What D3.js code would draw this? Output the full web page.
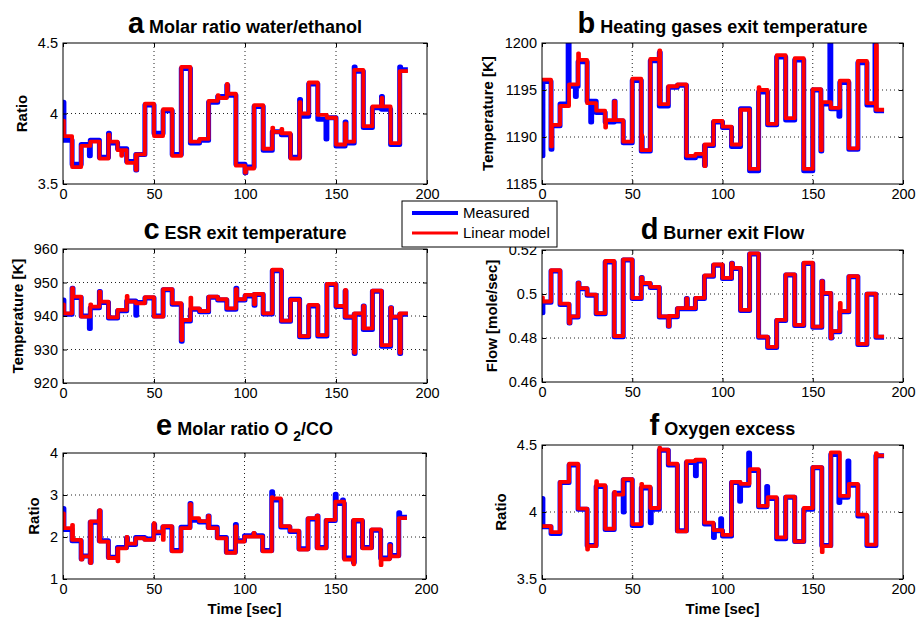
<!DOCTYPE html>
<html>
<head>
<meta charset="utf-8">
<script src="https://cdn.jsdelivr.net/npm/d3@7"></script>
<style>
body { margin: 0; background: #fff; }
svg text { font-family: "Liberation Sans", Arial, Helvetica, sans-serif; fill: #000; }
</style>
</head>
<body>
<div id="chart"></div>
<script>
// step instants of the input sequence [sec]
var stepTimes = [0, 5, 10, 15, 20, 25, 30, 35, 40, 45, 50, 55, 60, 65, 70, 75, 80, 85, 90, 95,
    100, 105, 110, 115, 120, 125, 130, 135, 140, 145, 150, 155, 160, 165, 170, 175, 180, 185];
var endTime = 189.5;
var xTicks = [0, 50, 100, 150, 200];
var xTickLabels = ["0", "50", "100", "150", "200"];
var seriesNames = ["Measured", "Linear model"];

// a - molar ratio water/ethanol
var ratioMeas = [3.81, 3.64, 3.78, 3.81, 3.69, 3.79, 3.75, 3.66, 3.71, 4.06, 3.86, 4.02, 3.71, 4.32, 3.79, 3.81, 4.08, 4.12, 4.13, 3.64,
    3.62, 4.05, 3.74, 3.87, 3.85, 3.69, 3.98, 4.21, 3.96, 3.97, 3.77, 3.79, 4.30, 3.90, 4.04, 4.03, 3.78, 4.31];
var ratioModel = [3.84, 3.62, 3.77, 3.80, 3.68, 3.80, 3.74, 3.65, 3.71, 4.07, 3.84, 4.03, 3.70, 4.33, 3.80, 3.82, 4.09, 4.11, 4.14, 3.63,
    3.61, 4.06, 3.75, 3.87, 3.86, 3.68, 4.00, 4.22, 3.99, 3.97, 3.78, 3.80, 4.31, 3.91, 4.05, 4.05, 3.79, 4.30];
var ratioMeasSpikes = [[0, 4.08], [14.5, 3.70], [25, 3.86], [40, 3.60], [90, 4.20], [100, 3.58], [130, 4.10], [144.5, 3.82], [155, 3.94], [160, 4.33], [175, 4.12], [185, 4.33]];
var ratioModelSpikes = [[0, 3.95], [25, 3.85], [32, 3.70], [40, 3.60], [85, 4.13], [90, 4.21], [100, 3.58], [115, 3.90], [120, 3.89], [130, 4.08], [155, 3.93], [175, 4.11]];
var ratioTicks = [3.5, 4, 4.5];
var ratioTickLabels = ["3.5", "4", "4.5"];

// b - heating gases exit temperature
var heatMeas = [1195.9, 1191.2, 1193.5, 1195.4, 1198.0, 1193.8, 1192.6, 1191.6, 1191.7, 1189.4, 1196.0, 1188.5, 1198.1, 1193.3, 1195.3, 1195.5, 1187.8, 1188.0, 1189.1, 1191.6,
    1191.0, 1189.0, 1193.0, 1186.4, 1194.8, 1191.3, 1198.5, 1191.8, 1198.2, 1186.4, 1195.0, 1193.5, 1193.0, 1195.8, 1188.7, 1197.9, 1193.4, 1192.8];
var heatModel = [1196.1, 1191.3, 1193.3, 1195.6, 1198.2, 1193.6, 1192.8, 1191.8, 1191.8, 1189.5, 1196.2, 1188.6, 1198.3, 1193.5, 1195.4, 1195.6, 1188.0, 1188.2, 1189.2, 1191.7,
    1191.1, 1189.2, 1192.9, 1186.6, 1195.0, 1191.4, 1198.7, 1192.0, 1198.4, 1186.6, 1195.1, 1193.7, 1193.1, 1196.0, 1188.8, 1198.1, 1193.6, 1192.9];
var heatMeasSpikes = [[0, 1188.0], [5, 1188.7], [14.5, 1200.5], [18.5, 1194.3], [27, 1191.6], [40, 1193.8], [55, 1190.0], [65, 1199.0], [90, 1187.0], [115, 1186.4], [154.5, 1188.5], [159.5, 1200.5], [164.5, 1192.2], [184.5, 1200.5]];
var heatModelSpikes = [[5, 1189.0], [20, 1198.9], [35, 1191.0], [40, 1193.8], [55, 1190.2], [65, 1199.2], [90, 1186.9], [120, 1195.3], [154.5, 1188.6], [185, 1199.8]];
var heatTicks = [1185, 1190, 1195, 1200];
var heatTickLabels = ["1185", "1190", "1195", "1200"];

// c - ESR exit temperature
var esrMeas = [940.5, 945.5, 940.0, 942.5, 944.0, 939.4, 941.6, 944.5, 944.0, 945.4, 940.0, 947.8, 943.5, 938.5, 942.0, 941.3, 945.6, 944.8, 942.0, 944.8,
    946.0, 946.4, 940.6, 953.5, 938.4, 945.0, 933.8, 943.0, 934.0, 949.4, 942.8, 939.6, 940.5, 936.0, 947.4, 931.0, 939.6, 940.5];
var esrModel = [940.8, 945.8, 939.8, 942.8, 944.3, 939.6, 941.8, 944.3, 943.8, 945.6, 939.8, 948.0, 943.8, 938.8, 942.3, 941.5, 945.8, 945.0, 942.3, 945.0,
    946.3, 946.6, 940.8, 953.8, 938.6, 944.8, 934.0, 943.3, 934.3, 949.6, 943.0, 939.8, 940.8, 936.3, 947.6, 931.3, 939.8, 940.8];
var esrMeasSpikes = [[0, 944.8], [5, 948.3], [14.5, 936.3], [20, 947.3], [40, 940.2], [65, 932.5], [95, 948.3], [105, 943.2], [155, 947.5], [160, 928.8], [165, 943.0], [180, 942.5], [185, 928.8]];
var esrModelSpikes = [[0, 943.5], [5, 948.3], [15, 943.5], [20, 947.3], [35, 946.0], [65, 932.8], [70, 945.5], [95, 948.0], [105, 943.5], [155, 947.8], [160, 929.0], [165, 943.0], [180, 942.5], [185, 929.0]];
var esrTicks = [920, 930, 940, 950, 960];
var esrTickLabels = ["920", "930", "940", "950", "960"];

// d - burner exit flow
var flowMeas = [0.4962, 0.5105, 0.4952, 0.4895, 0.5024, 0.4994, 0.4910, 0.5146, 0.4806, 0.5154, 0.4979, 0.5047, 0.5029, 0.4895, 0.4897, 0.4933, 0.4933, 0.4979, 0.5081, 0.5131,
    0.5070, 0.5116, 0.4925, 0.5182, 0.4803, 0.4757, 0.4879, 0.5086, 0.4857, 0.5139, 0.4849, 0.5002, 0.4828, 0.4919, 0.5078, 0.4770, 0.4999, 0.4803];
var flowModel = [0.4966, 0.5108, 0.4956, 0.4898, 0.5027, 0.4997, 0.4913, 0.5150, 0.4809, 0.5157, 0.4982, 0.5050, 0.5032, 0.4898, 0.4900, 0.4936, 0.4936, 0.4982, 0.5084, 0.5134,
    0.5073, 0.5119, 0.4928, 0.5185, 0.4806, 0.4760, 0.4882, 0.5089, 0.4860, 0.5142, 0.4852, 0.5005, 0.4831, 0.4922, 0.5081, 0.4773, 0.5002, 0.4806];
var flowMeasSpikes = [[0, 0.4915], [15, 0.4868], [20, 0.5050], [55, 0.5075], [70, 0.4853], [80, 0.4980], [105, 0.5140], [155, 0.5058], [160, 0.4800]];
var flowModelSpikes = [[0, 0.4985], [15, 0.4868], [20, 0.5050], [55, 0.5075], [70, 0.4853], [80, 0.4980], [105, 0.5140], [155, 0.5058], [160, 0.4800], [165, 0.4960]];
var flowTicks = [0.46, 0.48, 0.5, 0.52];
var flowTickLabels = ["0.46", "0.48", "0.5", "0.52"];

// e - molar ratio O2/CO
var o2coMeas = [2.18, 1.91, 1.55, 2.35, 1.91, 1.52, 1.75, 1.82, 1.99, 1.95, 2.10, 2.24, 1.68, 2.23, 2.40, 2.36, 2.23, 1.99, 1.64, 1.91,
    2.03, 2.03, 1.68, 2.88, 2.24, 2.13, 1.72, 2.43, 1.75, 2.39, 2.80, 1.50, 2.38, 1.75, 2.16, 1.50, 1.56, 2.47];
var o2coModel = [2.21, 1.93, 1.54, 2.37, 1.89, 1.50, 1.73, 1.84, 1.97, 1.93, 2.13, 2.26, 1.66, 2.21, 2.45, 2.38, 2.21, 1.97, 1.62, 1.89,
    2.01, 2.01, 1.66, 2.92, 2.26, 2.15, 1.70, 2.45, 1.73, 2.41, 2.84, 1.46, 2.41, 1.73, 2.18, 1.47, 1.54, 2.45];
var o2coMeasSpikes = [[0, 2.68], [10, 1.48], [15, 1.40], [20, 2.62], [35, 1.98], [50, 2.30], [70, 2.80], [80, 2.50], [95, 2.30], [105, 2.08], [115, 3.08], [140, 2.50], [150, 3.02], [154, 2.88], [160, 1.40], [180, 1.82], [185, 2.58]];
var o2coModelSpikes = [[0, 2.56], [5, 2.29], [10, 1.46], [15, 1.38], [20, 2.64], [30, 1.42], [35, 2.00], [50, 2.33], [55, 1.93], [70, 2.78], [80, 2.50], [95, 2.25], [105, 2.10], [115, 2.95], [140, 2.51], [160, 1.35], [175, 1.33], [180, 1.80]];
var o2coTicks = [1, 2, 3, 4];
var o2coTickLabels = ["1", "2", "3", "4"];

// f - oxygen excess
var oxyMeas = [3.89, 3.84, 4.22, 4.35, 4.02, 3.75, 4.19, 3.87, 4.14, 4.24, 3.90, 4.18, 4.02, 4.46, 4.35, 3.86, 4.37, 4.38, 3.91, 3.86,
    3.82, 4.22, 4.20, 4.31, 4.04, 4.10, 3.80, 4.11, 3.78, 4.02, 4.33, 3.75, 4.43, 4.11, 4.20, 3.97, 3.75, 4.42];
var oxyModel = [3.895, 3.85, 4.225, 4.36, 4.025, 3.745, 4.20, 3.875, 4.13, 4.245, 3.91, 4.19, 4.03, 4.465, 4.36, 3.855, 4.38, 4.39, 3.92, 3.865,
    3.83, 4.225, 4.21, 4.32, 4.045, 4.11, 3.81, 4.115, 3.78, 4.03, 4.335, 3.745, 4.445, 4.12, 4.21, 3.98, 3.757, 4.42];
var oxyMeasSpikes = [[0, 4.10], [45, 4.00], [60, 3.92], [85, 4.27], [95, 3.81], [99, 3.95], [109.5, 4.08], [114.5, 4.44], [124.5, 4.19], [164.5, 4.07], [169.5, 4.38]];
var oxyModelSpikes = [[25, 3.72], [30, 4.23], [40, 4.15], [55, 4.21], [65, 4.48], [155, 3.70], [185, 4.44]];
var oxyTicks = [3.5, 4, 4.5];
var oxyTickLabels = ["3.5", "4", "4.5"];

var W = 918, H = 619;
var spikeLength = 0.5; // sec
var svg = d3.select("#chart").append("svg")
    .attr("width", W)
    .attr("height", H);

var panels = [
    {id: "a", letter: "a", title: " Molar ratio water/ethanol", ylabel: "Ratio", meas: ratioMeas, model: ratioModel,
        measSpikes: ratioMeasSpikes, modelSpikes: ratioModelSpikes, ticks: ratioTicks, tickLabels: ratioTickLabels,
        left: 63, right: 427, top: 43, bottom: 184, titleY: 33, ylabelX: 27},
    {id: "b", letter: "b", title: " Heating gases exit temperature", ylabel: "Temperature [K]", meas: heatMeas, model: heatModel,
        measSpikes: heatMeasSpikes, modelSpikes: heatModelSpikes, ticks: heatTicks, tickLabels: heatTickLabels,
        left: 542, right: 903, top: 43, bottom: 184, titleY: 33, ylabelX: 493},
    {id: "c", letter: "c", title: " ESR exit temperature", ylabel: "Temperature [K]", meas: esrMeas, model: esrModel,
        measSpikes: esrMeasSpikes, modelSpikes: esrModelSpikes, ticks: esrTicks, tickLabels: esrTickLabels,
        left: 63, right: 427, top: 249, bottom: 383, titleY: 239, ylabelX: 23},
    {id: "d", letter: "d", title: " Burner exit Flow", ylabel: "Flow [mole/sec]", meas: flowMeas, model: flowModel,
        measSpikes: flowMeasSpikes, modelSpikes: flowModelSpikes, ticks: flowTicks, tickLabels: flowTickLabels,
        left: 542, right: 903, top: 250, bottom: 382, titleY: 239, ylabelX: 497},
    {id: "e", letter: "e", title: " Molar ratio O", sub: "2", after: "/CO", ylabel: "Ratio", xlabel: "Time [sec]", meas: o2coMeas, model: o2coModel,
        measSpikes: o2coMeasSpikes, modelSpikes: o2coModelSpikes, ticks: o2coTicks, tickLabels: o2coTickLabels,
        left: 63, right: 426, top: 453, bottom: 579, titleY: 435, ylabelX: 39},
    {id: "f", letter: "f", title: " Oxygen excess", ylabel: "Ratio", xlabel: "Time [sec]", meas: oxyMeas, model: oxyModel,
        measSpikes: oxyMeasSpikes, modelSpikes: oxyModelSpikes, ticks: oxyTicks, tickLabels: oxyTickLabels,
        left: 542, right: 903, top: 445, bottom: 579, titleY: 435, ylabelX: 506}
];

// value of the staircase just after time t
function valueAt(values, t) {
    var v = values[0];
    stepTimes.forEach(function(s, i) { if (s <= t) v = values[i]; });
    return v;
}

// staircase points plus short transients (spikes)
function buildSeries(values, spikes) {
    var pts = stepTimes.map(function(t, i) { return {t: t, v: values[i]}; });
    spikes.forEach(function(s) {
        pts.push({t: s[0], v: s[1]});
        pts.push({t: s[0] + spikeLength, v: valueAt(values, s[0] + spikeLength)});
    });
    pts.sort(function(a, b) { return a.t - b.t; });
    pts.push({t: endTime, v: values[values.length - 1]});
    return pts;
}

panels.forEach(drawPanel);
drawLegend();

function drawPanel(p) {
    var xScale = d3.scaleLinear().domain([0, 200]).range([p.left, p.right]);
    var yScale = d3.scaleLinear().domain([p.ticks[0], p.ticks[p.ticks.length - 1]]).range([p.bottom, p.top]);

    var g = svg.append("g").attr("class", "panel-" + p.id);

    g.append("rect")
        .attr("x", p.left).attr("y", p.top)
        .attr("width", p.right - p.left).attr("height", p.bottom - p.top)
        .style("fill", "#fff");

    // dotted grid
    g.selectAll(".gx")
        .data(xTicks.slice(1, -1))
        .enter().append("line")
        .attr("x1", function(d) { return xScale(d); })
        .attr("x2", function(d) { return xScale(d); })
        .attr("y1", p.top).attr("y2", p.bottom)
        .style("stroke", "#222")
        .style("stroke-width", 1)
        .style("stroke-dasharray", "1,3");

    g.selectAll(".gy")
        .data(p.ticks.slice(1, -1))
        .enter().append("line")
        .attr("x1", p.left).attr("x2", p.right)
        .attr("y1", function(d) { return yScale(d); })
        .attr("y2", function(d) { return yScale(d); })
        .style("stroke", "#222")
        .style("stroke-width", 1)
        .style("stroke-dasharray", "1,3");

    g.append("clipPath").attr("id", "clip-" + p.id)
        .append("rect")
        .attr("x", p.left).attr("y", p.top)
        .attr("width", p.right - p.left).attr("height", p.bottom - p.top);

    var line = d3.line()
        .x(function(d) { return xScale(d.t); })
        .y(function(d) { return yScale(d.v); })
        .curve(d3.curveStepAfter);

    var lines = g.append("g").attr("clip-path", "url(#clip-" + p.id + ")");

    lines.append("path")
        .attr("d", line(buildSeries(p.meas, p.measSpikes)))
        .style("fill", "none")
        .style("stroke", "#0000ff")
        .style("stroke-width", 5)
        .style("stroke-linejoin", "round");

    lines.append("path")
        .attr("d", line(buildSeries(p.model, p.modelSpikes)))
        .style("fill", "none")
        .style("stroke", "#ff0000")
        .style("stroke-width", 3.8)
        .style("stroke-linejoin", "round");

    // axes, ticks pointing inward
    g.append("g").attr("transform", "translate(0," + p.bottom + ")")
        .call(d3.axisBottom(xScale).tickValues(xTicks)
            .tickFormat(function(d, i) { return xTickLabels[i]; })
            .tickSize(-4).tickPadding(5));
    g.append("g").attr("transform", "translate(0," + p.top + ")")
        .call(d3.axisTop(xScale).tickValues(xTicks).tickFormat("").tickSize(-4));
    g.append("g").attr("transform", "translate(" + p.left + ",0)")
        .call(d3.axisLeft(yScale).tickValues(p.ticks)
            .tickFormat(function(d, i) { return p.tickLabels[i]; })
            .tickSize(-4).tickPadding(5));
    g.append("g").attr("transform", "translate(" + p.right + ",0)")
        .call(d3.axisRight(yScale).tickValues(p.ticks).tickFormat("").tickSize(-4));

    g.selectAll(".domain").remove();
    g.selectAll(".tick line").style("stroke", "#000");
    g.selectAll(".tick text").style("font-size", "14.5px")
        .style("font-family", '"Liberation Sans", Arial, sans-serif');

    g.append("rect")
        .attr("x", p.left).attr("y", p.top)
        .attr("width", p.right - p.left).attr("height", p.bottom - p.top)
        .style("fill", "none")
        .style("stroke", "#000")
        .style("stroke-width", 1);

    // title
    var cx = (p.left + p.right) / 2;
    var title = g.append("text")
        .attr("x", cx).attr("y", p.titleY)
        .attr("text-anchor", "middle")
        .style("font-weight", "bold");
    title.append("tspan").text(p.letter).style("font-size", "29px");
    title.append("tspan").text(p.title).style("font-size", "18px");
    if (p.sub) {
        title.append("tspan").text(" ").style("font-size", "18px");
        title.append("tspan").text(p.sub).attr("dy", 6).style("font-size", "14px");
        title.append("tspan").text(p.after).attr("dy", -6).style("font-size", "18px");
    }

    g.append("text")
        .attr("transform", "translate(" + p.ylabelX + "," + ((p.top + p.bottom) / 2) + ") rotate(-90)")
        .attr("text-anchor", "middle")
        .style("font-weight", "bold")
        .style("font-size", "15px")
        .text(p.ylabel);

    if (p.xlabel) {
        g.append("text")
            .attr("x", cx).attr("y", 614)
            .attr("text-anchor", "middle")
            .style("font-weight", "bold")
            .style("font-size", "15px")
            .text(p.xlabel);
    }
}

function drawLegend() {
    var lg = svg.append("g").attr("class", "legend");
    lg.append("rect")
        .attr("x", 402).attr("y", 201)
        .attr("width", 155).attr("height", 46)
        .style("fill", "#fff")
        .style("stroke", "#000")
        .style("stroke-width", 1);

    var colors = ["#0000ff", "#ff0000"];
    var widths = [4, 3];
    seriesNames.forEach(function(name, i) {
        lg.append("line")
            .attr("x1", 412).attr("x2", 458)
            .attr("y1", 213 + i * 20).attr("y2", 213 + i * 20)
            .style("stroke", colors[i])
            .style("stroke-width", widths[i]);
        lg.append("text")
            .attr("x", 463).attr("y", 218 + i * 20)
            .style("font-size", "15px")
            .text(name);
    });
}
</script>
</body>
</html>
